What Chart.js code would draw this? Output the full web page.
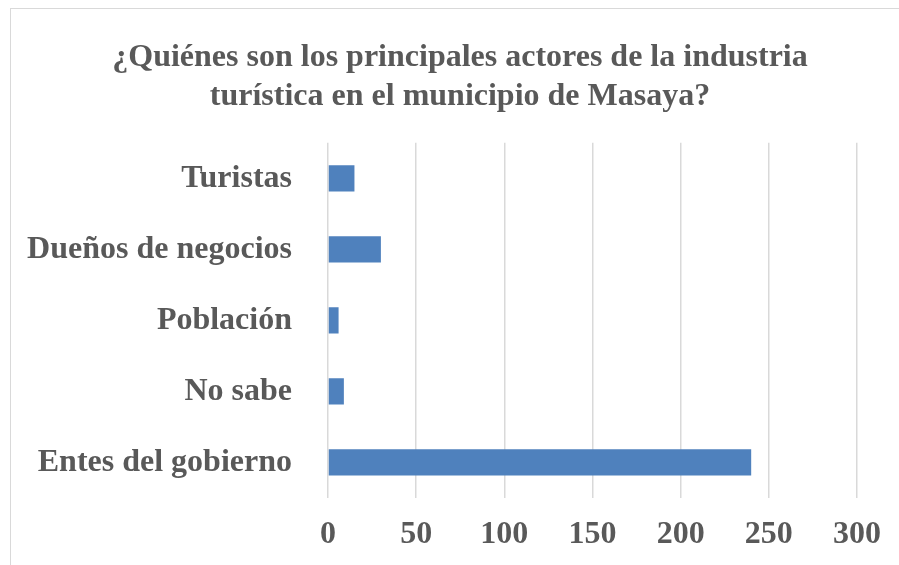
<!DOCTYPE html>
<html>
<head>
	<title>Actores de la industria turística</title>
	<style>
		body
		{
			margin: 0;
			background: #ffffff;
			overflow: hidden;
		}

		.frame
		{
			position: absolute;
			left: 10px;
			top: 8px;
			width: 898px;
			height: 565px;
			border: 1px solid #d9d9d9;
			background: #ffffff;
		}

		canvas
		{
			display: block;
		}
	</style>
</head>
<body>
	<div class="frame">
	<canvas id="chart1" width="898" height="556"></canvas>
	</div>

	<script src="https://cdn.jsdelivr.net/npm/chart.js@4.4.0/dist/chart.umd.min.js"></script>
	<script>
		// categories from top to bottom, as in the picture
		var categories = ["Turistas", "Dueños de negocios", "Población", "No sabe", "Entes del gobierno"];
		var respuestas = [15, 30, 6, 9, 240];
		var xTicks = [0, 50, 100, 150, 200, 250, 300];

		var gray = "#595959";
		var serifBold = {family: "'Liberation Serif', 'Times New Roman', serif", size: 32, weight: "bold"};

		var ctx = document.getElementById('chart1').getContext('2d');
		var chart = new Chart(ctx, {
			type: 'bar',
			data: {
				labels: categories,
				datasets: [{
					label: "Respuestas",
					backgroundColor: "#4f81bd",
					data: respuestas,
					barPercentage: 0.37,
					categoryPercentage: 1
				}]
			},
			options: {
				indexAxis: 'y',
				responsive: false,
				animation: false,
				layout: {
					padding: 0
				},
				plugins: {
					legend: {display: false},
					tooltip: {enabled: false},
					title: {
						display: true,
						text: ["¿Quiénes son los principales actores de la industria", "turística en el municipio de Masaya?"],
						color: gray,
						font: serifBold,
						lineHeight: 1.07,
						padding: {top: 30, bottom: 27}
					}
				},
				scales: {
					x: {
						// axis runs a bit past 300 to leave the empty strip on the right,
						// only the ticks below get gridlines and labels
						min: 0,
						max: 329.5,
						afterBuildTicks: function(scale) {
							scale.ticks = xTicks.map(function(v) { return {value: v}; });
						},
						afterFit: function(scale) { scale.height = 67; },
						grid: {color: "#d9d9d9", lineWidth: 1.5, drawTicks: false},
						border: {display: false},
						ticks: {color: gray, font: serifBold, padding: 18, maxRotation: 0}
					},
					y: {
						afterFit: function(scale) { scale.width = 317; },
						grid: {display: false, drawTicks: false},
						border: {display: false},
						ticks: {color: gray, font: serifBold, padding: 36}
					}
				}
			}
		});
	</script>
</body>
</html>
